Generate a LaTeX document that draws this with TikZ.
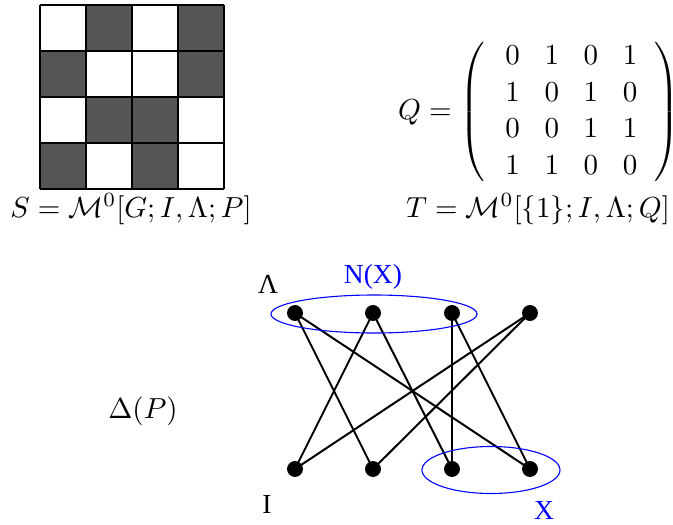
\documentclass[tikz,border=0pt]{standalone}
\usepackage{amsmath,amssymb}
\usepackage{fontspec}
\usepackage{tikz}
\usetikzlibrary{shapes.geometric,positioning}
\newfontfamily\figfont{Liberation Serif}
\definecolor{CellGray}{HTML}{555555}
\tikzset{
  vertex/.style={circle,fill=black,inner sep=0pt,minimum size=5.5pt},
  edge/.style={line width=0.69pt},
  setring/.style={draw=blue,line width=0.38pt},
  figlabel/.style={font=\figfont\fontsize{9.5}{11}\selectfont}
}
\begin{document}
\begin{tikzpicture}[x=0.345pt,y=-0.345pt]
      \useasboundingbox (0,0) rectangle (673,525);
      % the grid picture of P
      \foreach \r/\c in {0/1,0/3,1/0,1/3,2/1,2/2,3/0,3/2}
        \fill[CellGray] (40+46*\c,5+46*\r) rectangle ++(46,46);
      \foreach \k in {0,...,4} {
        \draw[line width=0.5pt] (40+46*\k,5) -- (40+46*\k,189);
        \draw[line width=0.5pt] (40,5+46*\k) -- (224,5+46*\k);
      }
      \node (S) at (131,209) {$S=\mathcal{M}^0[G;I,\Lambda;P]$};
      % the matrix Q
      \node (Q) at (539,112) {$Q=\left(\;\setlength\arraycolsep{4.25pt}\renewcommand\arraystretch{1.05}\begin{array}{cccc}0&1&0&1\\1&0&1&0\\0&0&1&1\\1&1&0&0\end{array}\,\right)$};
      \node (T) at (538,209) {$T=\mathcal{M}^0[\{1\};I,\Lambda;Q]$};
      % the graph Delta(P)
      \node (D) at (143,411) {$\Delta(P)$};
      \node[vertex] (l1) at (295,313) {};
      \node[vertex] (l2) at (373,313) {};
      \node[vertex] (l3) at (452,313) {};
      \node[vertex] (l4) at (530,313) {};
      \node[vertex] (i1) at (295,469) {};
      \node[vertex] (i2) at (373,469) {};
      \node[vertex] (i3) at (452,469) {};
      \node[vertex] (i4) at (530,469) {};
      \draw[edge] (l1.center) -- (i2.center);
      \draw[edge] (l1.center) -- (i4.center);
      \draw[edge] (l2.center) -- (i1.center);
      \draw[edge] (l2.center) -- (i3.center);
      \draw[edge] (l3.center) -- (i3.center);
      \draw[edge] (l3.center) -- (i4.center);
      \draw[edge] (l4.center) -- (i1.center);
      \draw[edge] (l4.center) -- (i2.center);
      \draw[setring] (374,314) ellipse [x radius=103, y radius=19];
      \draw[setring] (491,470) ellipse [x radius=69, y radius=23.5];
      \node[figlabel] (lam) at (268,284) {Λ};
      \node[figlabel] (iset) at (267,504) {I};
      \node[figlabel,text=blue] (nx) at (373,277) {N(X)};
      \node[figlabel,text=blue] (xset) at (544,510) {X};
    \end{tikzpicture}
\end{document}
